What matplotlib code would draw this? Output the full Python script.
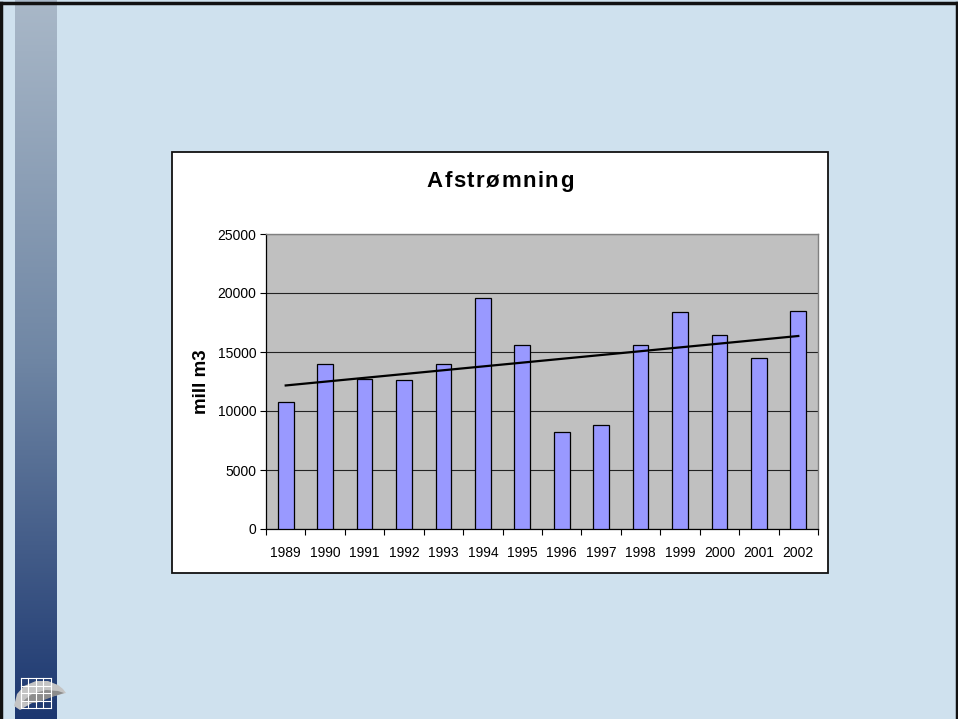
import numpy as np
import matplotlib
matplotlib.use("Agg")
import matplotlib.pyplot as plt
from matplotlib.patches import Rectangle, Polygon
from matplotlib.colors import LinearSegmentedColormap

years = ["1989", "1990", "1991", "1992", "1993", "1994", "1995",
         "1996", "1997", "1998", "1999", "2000", "2001", "2002"]
values = [10800, 14000, 12700, 12600, 14000, 19600, 15600,
          8200, 8850, 15600, 18350, 16450, 14450, 18450]
yticks = [0, 5000, 10000, 15000, 20000, 25000]
title = "Afstrømning"
ylabel = "mill m3"

plt.rcParams['font.family'] = ['Liberation Sans', 'DejaVu Sans']

W, H = 958, 719
fig = plt.figure(figsize=(W / 100, H / 100), dpi=100)
fig.patch.set_facecolor("#CFE1EE")

def fx(x):
    return x / W

def fy(y):
    return 1 - y / H

# slide background axes
bg = fig.add_axes([0, 0, 1, 1])
bg.set_xlim(0, W)
bg.set_ylim(H, 0)
bg.axis("off")
bg.add_patch(Rectangle((0, 0), W, H, facecolor="#CFE1EE", edgecolor="none"))
# gradient strip
cmap = LinearSegmentedColormap.from_list("strip", ["#A9B8C8", "#6F86A4", "#1C3770"])
grad = np.linspace(0, 1, 256).reshape(-1, 1)
bg.imshow(grad, cmap=cmap, extent=[15, 57, H, 0], aspect="auto", zorder=1)
# slide border
bg.plot([1, 1], [3, H], color="#111111", lw=2.5, zorder=3)
bg.plot([0, W], [3, 3], color="#111111", lw=2.5, zorder=3)
bg.plot([W - 1, W - 1], [3, H], color="#111111", lw=2.5, zorder=3)
# logo
bg.add_patch(Polygon([[14, 706], [17, 694], [24, 686], [36, 681], [48, 681], [58, 685],
                      [63, 689], [66, 693], [58, 695], [46, 698], [32, 703], [20, 710]],
                     closed=True, facecolor="#C4C4C4", edgecolor="none", zorder=2))
bg.add_patch(Polygon([[22, 702], [32, 694], [46, 690], [58, 691], [64, 693], [52, 697],
                      [36, 703]],
                     closed=True, facecolor="#8C8C8C", edgecolor="none", zorder=2))
for gx in np.linspace(21, 51, 5):
    bg.plot([gx, gx], [678, 708], color="white", lw=0.8, zorder=3)
for gy in np.linspace(678, 708, 5):
    bg.plot([21, 51], [gy, gy], color="white", lw=0.8, zorder=3)

# chart box
bg.add_patch(Rectangle((172, 152), 656, 421, facecolor="white", edgecolor="#111111",
                       lw=1.3, zorder=2))

# title with letter spacing
fig.canvas.draw()
renderer = fig.canvas.get_renderer()
tfs = 16
spacing = 1.5
widths = []
for ch in title:
    t = bg.text(0, 0, ch, fontsize=tfs, fontweight="bold")
    widths.append(t.get_window_extent(renderer).width)
    t.remove()
total = sum(widths) + spacing * (len(title) - 1)
cx = 500 - total / 2
for ch, w in zip(title, widths):
    bg.text(cx, 187, ch, ha="left", va="baseline", fontsize=tfs, fontweight="bold",
            zorder=3)
    cx += w + spacing

# plot area
left, right, top, bottom = 266, 818, 234, 529
ax = fig.add_axes([fx(left), fy(bottom), fx(right - left), (bottom - top) / H])
ax.set_facecolor("#C0C0C0")
x = np.arange(len(years))
ax.bar(x, values, width=0.4, color="#9999FF", edgecolor="black", linewidth=0.9, zorder=3)
coef = np.polyfit(x, values, 1)
ax.plot(x, np.polyval(coef, x), color="black", lw=1.6, zorder=4)
ax.set_xlim(-0.5, len(years) - 0.5)
ax.set_ylim(0, 25000)
ax.set_yticks(yticks)
ax.set_yticklabels([str(t) for t in yticks], fontsize=10)
ax.yaxis.grid(True, color="#222222", lw=0.8, zorder=1)
ax.set_axisbelow(True)
ax.set_xticks(x)
ax.set_xticklabels(years, fontsize=10)
ax.set_xticks(np.arange(-0.5, len(years), 1), minor=True)
ax.tick_params(axis="x", which="major", length=0, pad=12)
ax.tick_params(axis="x", which="minor", length=4, direction="out", width=0.8)
ax.tick_params(axis="y", length=4, direction="out", width=0.8, pad=3)
ax.set_ylabel(ylabel, fontsize=13.5, fontweight="bold", labelpad=5)
for s in ["top", "right"]:
    ax.spines[s].set_color("#808080")
    ax.spines[s].set_linewidth(1.0)
for s in ["left", "bottom"]:
    ax.spines[s].set_color("black")
    ax.spines[s].set_linewidth(0.9)

fig.savefig("out.png", dpi=100)
